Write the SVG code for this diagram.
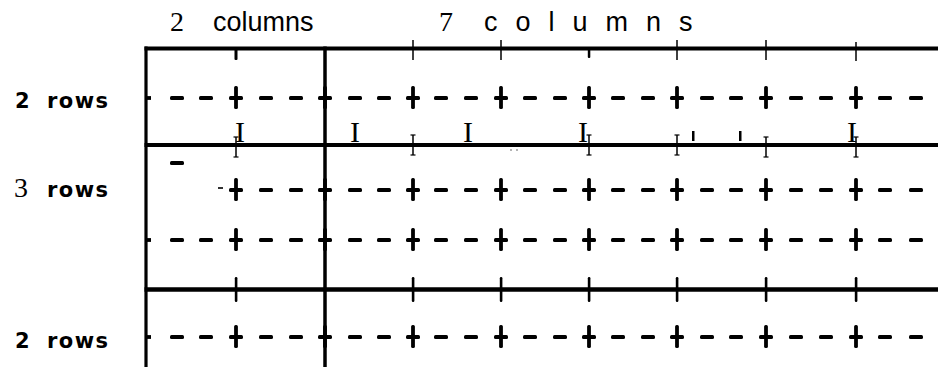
<svg xmlns="http://www.w3.org/2000/svg" xmlns:xlink="http://www.w3.org/1999/xlink" width="938" height="382" viewBox="0 0 938 382">
<style>
.serif{font-family:"Liberation Serif","Times New Roman",serif;fill:#000}
.sans{font-family:"Liberation Sans",Arial,sans-serif;fill:#000}
.lbl{font-family:"DejaVu Sans","Liberation Sans",sans-serif;font-weight:bold;font-size:21px;fill:#000}
.frame{stroke:#000;fill:none}
.thin{stroke:#000;stroke-width:1.5;fill:none}
</style>
<defs>
<g id="cross"><rect x="-1.9" y="-12" width="3.8" height="23" rx="1.5"/><rect x="-7" y="-1.9" width="14" height="3.8" rx="1.5"/></g>
<rect id="dash" x="-7" y="-1.9" width="14" height="3.8" rx="1.5"/>
<rect id="stub" x="0" y="-1.9" width="5" height="3.8"/>
<g id="ibeam"><line x1="0" y1="-10" x2="0" y2="10" stroke="#000" stroke-width="1.5"/><line x1="-2.5" y1="-10" x2="2.5" y2="-10" stroke="#000" stroke-width="1.2"/><line x1="-2.5" y1="10" x2="2.5" y2="10" stroke="#000" stroke-width="1.2"/></g>
<g id="row">
<use xlink:href="#cross" x="236"/><use xlink:href="#cross" x="325"/><use xlink:href="#cross" x="413"/><use xlink:href="#cross" x="501"/><use xlink:href="#cross" x="589"/><use xlink:href="#cross" x="677"/><use xlink:href="#cross" x="766"/><use xlink:href="#cross" x="856"/>
<use xlink:href="#dash" x="266"/><use xlink:href="#dash" x="296"/><use xlink:href="#dash" x="355"/><use xlink:href="#dash" x="384"/><use xlink:href="#dash" x="441"/><use xlink:href="#dash" x="471"/><use xlink:href="#dash" x="530"/><use xlink:href="#dash" x="560"/><use xlink:href="#dash" x="618"/><use xlink:href="#dash" x="648"/><use xlink:href="#dash" x="707"/><use xlink:href="#dash" x="736"/><use xlink:href="#dash" x="796"/><use xlink:href="#dash" x="826"/><use xlink:href="#dash" x="885"/><use xlink:href="#dash" x="916"/>
</g>
<g id="rowfull"><use xlink:href="#stub" x="146"/><use xlink:href="#dash" x="177"/><use xlink:href="#dash" x="206"/><use xlink:href="#row"/></g>
</defs>
<rect width="938" height="382" fill="#fff"/>

<g id="headers">
<text y="30.5"><tspan class="serif" x="170" font-size="28">2</tspan><tspan class="sans" x="213" y="31" font-size="27">columns</tspan></text>
<text y="30.5"><tspan class="serif" x="439" font-size="28">7</tspan><tspan class="sans" x="484" y="31" font-size="27" letter-spacing="18">columns</tspan></text>
</g>

<g id="row-labels">
<text class="lbl" y="108"><tspan x="15">2</tspan><tspan x="47" textLength="61">rows</tspan></text>
<text y="197"><tspan class="serif" x="14" font-size="28">3</tspan><tspan class="lbl" x="47" textLength="61">rows</tspan></text>
<text class="lbl" y="348"><tspan x="15">2</tspan><tspan x="47" textLength="61">rows</tspan></text>
</g>

<g id="frame">
<line class="frame" x1="146" y1="46.5" x2="146" y2="367" stroke-width="3.2"/>
<line class="frame" x1="325" y1="46.5" x2="325" y2="367" stroke-width="3.5"/>
<line class="frame" x1="144.5" y1="48.5" x2="938" y2="48.5" stroke-width="3.8"/>
<line class="frame" x1="144.5" y1="145" x2="938" y2="145" stroke-width="3.8"/>
<line class="frame" x1="144.5" y1="289.5" x2="938" y2="289.5" stroke-width="4.5"/>
</g>

<g id="top-ticks">
<rect x="234.5" y="48" width="3" height="12" rx="1"/>
<line class="thin" x1="413" y1="40" x2="413" y2="60"/>
<line class="thin" x1="501" y1="40" x2="501" y2="60"/>
<rect x="587.8" y="49" width="2.5" height="9" rx="1"/>
<line class="thin" x1="677" y1="40" x2="677" y2="60"/>
<line class="thin" x1="766" y1="40" x2="766" y2="60"/>
<line class="thin" x1="856" y1="42" x2="856" y2="61"/>
</g>

<g id="middle-marks">
<use xlink:href="#ibeam" x="236" y="147"/>
<use xlink:href="#ibeam" x="413" y="145"/>
<use xlink:href="#ibeam" x="589" y="145"/>
<use xlink:href="#ibeam" x="677" y="145"/>
<use xlink:href="#ibeam" x="766" y="147"/>
<use xlink:href="#ibeam" x="856" y="147"/>
<g class="serif" font-size="30" text-anchor="middle">
<text x="240" y="142">I</text>
<text x="355" y="142">I</text>
<text x="468" y="142">I</text>
<text x="583" y="142">I</text>
<text x="852" y="142">I</text>
</g>
<rect x="692" y="131" width="2.5" height="10"/>
<rect x="739" y="131" width="2.5" height="10"/>
<circle cx="511" cy="150" r="0.8" fill="#555"/>
<circle cx="517" cy="150" r="0.8" fill="#555"/>
</g>

<g id="bottom-ticks" fill="#000">
<rect x="234.8" y="277" width="2.6" height="25" rx="1.2"/>
<rect x="411.8" y="277" width="2.6" height="25" rx="1.2"/>
<rect x="499.8" y="277" width="2.6" height="25" rx="1.2"/>
<rect x="587.8" y="277" width="2.6" height="25" rx="1.2"/>
<rect x="675.8" y="277" width="2.6" height="25" rx="1.2"/>
<rect x="764.8" y="277" width="2.6" height="25" rx="1.2"/>
<rect x="854.8" y="277" width="2.6" height="25" rx="1.2"/>
</g>

<g id="dash-rows" fill="#000">
<use xlink:href="#rowfull" y="98"/>
<use xlink:href="#row" y="190"/>
<use xlink:href="#dash" x="177" y="163"/>
<rect x="218" y="187.2" width="5" height="1.6"/>
<use xlink:href="#rowfull" y="240"/>
<use xlink:href="#rowfull" y="337"/>
</g>
</svg>
